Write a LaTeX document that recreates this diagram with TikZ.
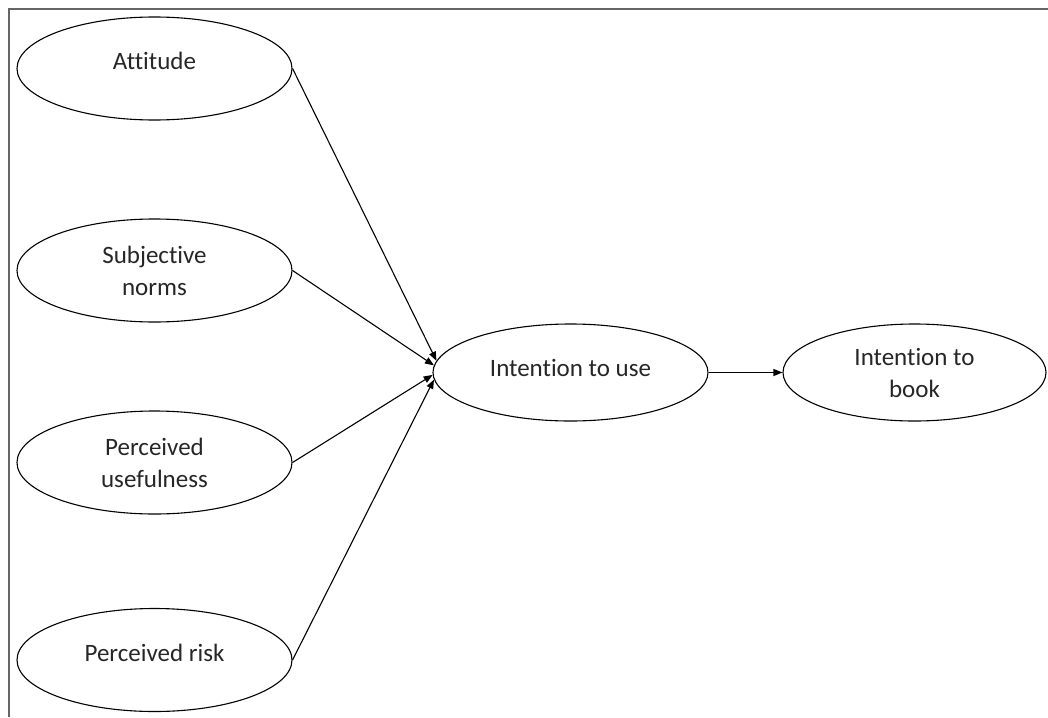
\documentclass[tikz,border=0pt]{standalone}
\usepackage{fontspec}
\setmainfont{Carlito}[Ligatures=CommonOff]
\usetikzlibrary{shapes.geometric,arrows.meta}
\begin{document}
\begin{tikzpicture}[x=1pt,y=-1pt,
  oval/.style={draw,ellipse,line width=1.1pt,minimum width=275pt,minimum height=103pt,
    inner sep=0pt,align=center,text=black!85,font=\fontsize{25}{32}\selectfont},
  raised/.style={text height=17pt,text depth=15pt},
  link/.style={line width=1.1pt,-{Triangle[length=9pt,width=7pt]}}]
\useasboundingbox (0,0) rectangle (1048,717);
% Frame (open at right and bottom)
\draw[line width=2pt,black!60] (9,717) -- (9,9.5) -- (1048,9.5);
% Four predictors on the left
\node[oval,raised] (att) at (154.5,68.5) {Attitude};
\node[oval] (norm) at (154.5,270.5) {Subjective\\norms};
\node[oval] (useful) at (154.5,462.5) {Perceived\\usefulness};
\node[oval,raised] (risk) at (154.5,660) {Perceived risk};
% Intentions
\node[oval,minimum height=97pt,text height=17pt,text depth=9pt] (use) at (570.5,372.5) {Intention to use};
\node[oval,minimum width=263pt,minimum height=97pt] (book) at (914.5,372.5) {Intention to\\book};
% Paths
\draw[link] (att.east) -- (use.175);
\draw[link] (norm.east) -- (use.177);
\draw[link] (useful.east) -- (use.181);
\draw[link] (risk.east) -- (use.183);
\draw[link] (use.east) -- (book.west);
\end{tikzpicture}
\end{document}
